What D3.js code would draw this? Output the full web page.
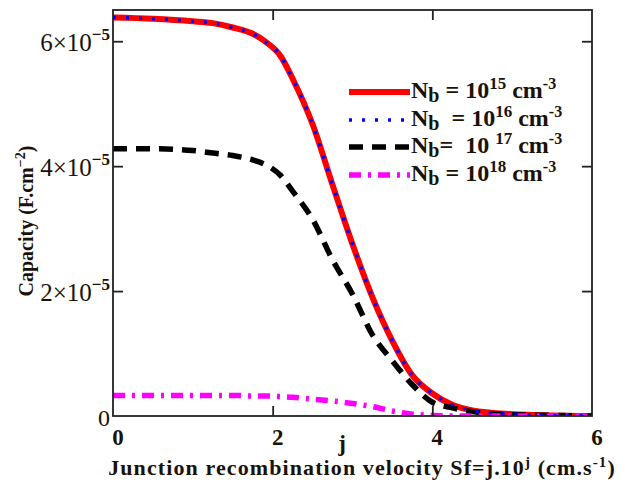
<!DOCTYPE html>
<html>
<head>
<meta charset="utf-8">
<script src="https://cdn.jsdelivr.net/npm/d3@7"></script>
<style>
  body { margin: 0; background: #fff; }
  text { font-family: "Liberation Serif", "Times New Roman", serif; fill: #1a1208; }
</style>
</head>
<body>
<div class="graph"></div>
<script>
// j values (x) and capacity values in units of 1e-5 F.cm^-2
const jValues = [0, 0.5, 1.0, 1.25, 1.5, 1.75, 1.9, 2.1, 2.25, 2.5, 2.75, 3.0, 3.25, 3.5, 3.75, 4.0, 4.25, 4.5, 5.0, 5.5, 6.0];
const nb15 = [6.38, 6.36, 6.32, 6.29, 6.22, 6.12, 6.0, 5.76, 5.4, 4.67, 3.7, 2.75, 1.9, 1.2, 0.65, 0.36, 0.18, 0.09, 0.03, 0.01, 0];
const nb16 = [6.38, 6.36, 6.32, 6.29, 6.22, 6.12, 6.0, 5.76, 5.4, 4.67, 3.7, 2.75, 1.9, 1.2, 0.65, 0.36, 0.18, 0.09, 0.03, 0.01, 0];
const nb17 = [4.28, 4.28, 4.25, 4.21, 4.17, 4.1, 4.03, 3.85, 3.6, 3.15, 2.5, 1.95, 1.3, 0.88, 0.5, 0.22, 0.13, 0.07, 0.02, 0.01, 0];
const nb18 = [0.33, 0.33, 0.33, 0.33, 0.33, 0.32, 0.32, 0.31, 0.3, 0.27, 0.24, 0.2, 0.15, 0.08, 0.03, 0.01, 0, 0, 0, 0, 0];

const xTicks = [0, 2, 4, 6];
const yTicks = [2, 4, 6];
const legendExp = ['15', '16', '17', '18'];

const w = 620;
const h = 483;
const padding = { top: 10, right: 28, bottom: 67, left: 113 };

const svg = d3.select('.graph')
  .append('svg')
  .attr('width', w)
  .attr('height', h);

const xScale = d3.scaleLinear()
  .domain([0, 6])
  .range([padding.left, w - padding.right]);
const yScale = d3.scaleLinear()
  .domain([0, 6.5])
  .range([h - padding.bottom, padding.top]);

svg.append('clipPath')
  .attr('id', 'plot-clip')
  .append('rect')
  .attr('x', padding.left)
  .attr('y', padding.top)
  .attr('width', w - padding.left - padding.right)
  .attr('height', h - padding.top - padding.bottom);

const series = [
  { values: nb15, color: '#ff0000', width: 6, dash: null },
  { values: nb16, color: '#0000ff', width: 3.5, dash: '3,10' },
  { values: nb17, color: '#000000', width: 5.5, dash: '14,9' },
  { values: nb18, color: '#ff00ff', width: 5.5, dash: '12,7,3,7' }
];

const line = d3.line()
  .x((d, i) => xScale(jValues[i]))
  .y((d) => yScale(d))
  .curve(d3.curveMonotoneX);

const plot = svg.append('g').attr('clip-path', 'url(#plot-clip)');

plot.selectAll('path')
  .data([series[0], series[2], series[3], series[1]])
  .enter()
  .append('path')
  .attr('d', (d) => line(d.values))
  .attr('fill', 'none')
  .attr('stroke', (d) => d.color)
  .attr('stroke-width', (d) => d.width)
  .attr('stroke-dasharray', (d) => d.dash);

// frame
svg.append('rect')
  .attr('x', padding.left)
  .attr('y', padding.top)
  .attr('width', w - padding.left - padding.right)
  .attr('height', h - padding.top - padding.bottom)
  .attr('fill', 'none')
  .attr('stroke', '#222')
  .attr('stroke-width', 1.8);

// inward ticks
svg.append('g')
  .attr('transform', `translate(0, ${padding.top})`)
  .call(d3.axisBottom(xScale).tickValues([2, 4]).tickSize(10).tickFormat(''))
  .call((g) => g.select('.domain').remove());
svg.append('g')
  .attr('transform', `translate(0, ${h - padding.bottom})`)
  .call(d3.axisTop(xScale).tickValues([2, 4]).tickSize(10).tickFormat(''))
  .call((g) => g.select('.domain').remove());
svg.append('g')
  .attr('transform', `translate(${padding.left}, 0)`)
  .call(d3.axisRight(yScale).tickValues(yTicks).tickSize(10).tickFormat(''))
  .call((g) => g.select('.domain').remove());
svg.append('g')
  .attr('transform', `translate(${w - padding.right}, 0)`)
  .call(d3.axisLeft(yScale).tickValues(yTicks).tickSize(10).tickFormat(''))
  .call((g) => g.select('.domain').remove());
svg.selectAll('.tick line').attr('stroke', '#222').attr('stroke-width', 1.8);

// x tick labels
svg.selectAll('.xlabel')
  .data(xTicks)
  .enter()
  .append('text')
  .attr('class', 'xlabel')
  .attr('x', (d) => xScale(d) + 5)
  .attr('y', 445)
  .attr('text-anchor', 'middle')
  .style('font-size', '23px')
  .style('font-weight', 'bold')
  .text((d) => d);

// y tick labels
const yLabels = svg.selectAll('.ylabel')
  .data(yTicks)
  .enter()
  .append('text')
  .attr('class', 'ylabel')
  .attr('x', 110)
  .attr('y', (d) => yScale(d) + 10)
  .attr('text-anchor', 'end')
  .style('font-size', '25px');
yLabels.append('tspan').text((d) => `${d}×10`);
yLabels.append('tspan')
  .attr('dy', -11)
  .style('font-size', '17px')
  .style('font-weight', 'bold')
  .text('−5');

svg.append('text')
  .attr('x', 104)
  .attr('y', 426)
  .attr('text-anchor', 'middle')
  .style('font-size', '24px')
  .text('0');

// axis titles
svg.append('text')
  .attr('x', 342)
  .attr('y', 451)
  .attr('text-anchor', 'middle')
  .style('font-size', '23px')
  .style('font-weight', 'bold')
  .text('j');

const xTitle = svg.append('text')
  .attr('x', 362)
  .attr('y', 475)
  .attr('text-anchor', 'middle')
  .style('font-size', '22px')
  .style('font-weight', 'bold')
  .style('letter-spacing', '1.1px');
xTitle.append('tspan').text('Junction recombination velocity Sf=j.10');
xTitle.append('tspan').attr('dy', -8).style('font-size', '15px').text('j');
xTitle.append('tspan').attr('dy', 8).text(' (cm.s');
xTitle.append('tspan').attr('dy', -8).style('font-size', '15px').text('-1');
xTitle.append('tspan').attr('dy', 8).text(')');

const yTitle = svg.append('text')
  .attr('transform', 'rotate(-90)')
  .attr('x', -221)
  .attr('y', 33)
  .attr('text-anchor', 'middle')
  .style('font-size', '20px')
  .style('font-weight', 'bold');
yTitle.append('tspan').text('Capacity (F.cm');
yTitle.append('tspan').attr('dy', -8).style('font-size', '14px').text('−2');
yTitle.append('tspan').attr('dy', 8).text(')');

// legend
const legendY = [92, 120, 147, 175];
const legend = svg.append('g').attr('class', 'legend');

legend.selectAll('line')
  .data(series)
  .enter()
  .append('line')
  .attr('x1', 349)
  .attr('x2', 410)
  .attr('y1', (d, i) => legendY[i])
  .attr('y2', (d, i) => legendY[i])
  .attr('stroke', (d) => d.color)
  .attr('stroke-width', (d) => d.width)
  .attr('stroke-dasharray', (d) => d.dash);

const legendText = legend.selectAll('text')
  .data(legendExp)
  .enter()
  .append('text')
  .attr('x', 411)
  .attr('y', (d, i) => legendY[i] + 6)
  .style('font-size', '24px')
  .style('font-weight', 'bold')
  .style('white-space', 'pre');
legendText.append('tspan').text('N');
legendText.append('tspan').attr('dy', 4).style('font-size', '20px').text('b');
legendText.append('tspan').attr('dy', -4).text((d, i) => i === 1 ? '  = 10' : i === 2 ? '=  10 ' : ' = 10');
legendText.append('tspan').attr('dy', -9).style('font-size', '17px').text((d) => d);
legendText.append('tspan').attr('dy', 9).text(' cm');
legendText.append('tspan').attr('dy', -9).style('font-size', '16px').text('-3');
</script>
</body>
</html>
